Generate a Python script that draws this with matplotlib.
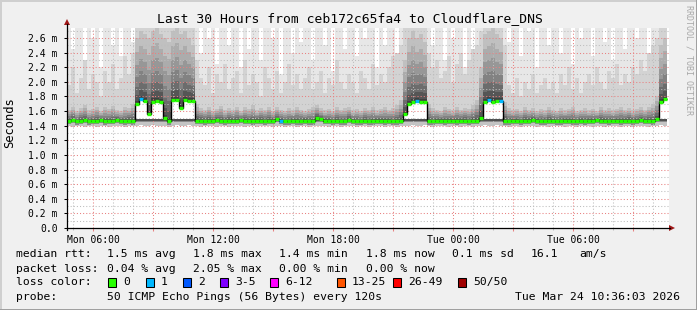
import numpy as np
import matplotlib
matplotlib.use('Agg')
import matplotlib.pyplot as plt
from matplotlib.lines import Line2D
from matplotlib.patches import Rectangle, Polygon

plt.rcParams['font.family'] = ['DejaVu Sans Mono', 'DejaVu Sans']

W, H = 697, 310

# time axis in hours since Mon 00:00, one bin = 12 minutes
t0 = 4.68
bin_h = 0.2

# median rtt per bin (ms)
median = [
    1.47, 1.48, 1.46, 1.47, 1.48, 1.46, 1.47, 1.47, 1.48, 1.46,
    1.47, 1.47, 1.48, 1.47, 1.46, 1.47, 1.46, 1.70, 1.76, 1.74,
    1.56, 1.73, 1.74, 1.73, 1.50, 1.46, 1.75, 1.75, 1.64, 1.75,
    1.74, 1.74, 1.47, 1.47, 1.46, 1.47, 1.47, 1.48, 1.47, 1.46,
    1.47, 1.47, 1.47, 1.48, 1.47, 1.47, 1.46, 1.47, 1.47, 1.46,
    1.47, 1.47, 1.49, 1.47, 1.46, 1.46, 1.47, 1.46, 1.46, 1.47,
    1.46, 1.46, 1.51, 1.49, 1.47, 1.47, 1.46, 1.47, 1.46, 1.46,
    1.48, 1.47, 1.46, 1.46, 1.47, 1.46, 1.46, 1.47, 1.47, 1.46,
    1.47, 1.46, 1.46, 1.47, 1.56, 1.70, 1.72, 1.74, 1.73, 1.73,
    1.46, 1.46, 1.47, 1.47, 1.46, 1.47, 1.47, 1.46, 1.47, 1.47,
    1.46, 1.47, 1.47, 1.50, 1.73, 1.75, 1.73, 1.74, 1.74, 1.46,
    1.46, 1.47, 1.47, 1.46, 1.47, 1.47, 1.48, 1.47, 1.46, 1.46,
    1.47, 1.47, 1.46, 1.46, 1.47, 1.47, 1.46, 1.46, 1.47, 1.46,
    1.47, 1.47, 1.48, 1.47, 1.47, 1.46, 1.47, 1.47, 1.46, 1.47,
    1.47, 1.46, 1.47, 1.48, 1.47, 1.47, 1.46, 1.49, 1.73, 1.76,
]

# lost pings per bin (out of 50)
loss = [
    0, 0, 0, 0, 0, 0, 0, 0, 0, 0,
    0, 0, 0, 0, 0, 0, 0, 0, 1, 0,
    0, 0, 0, 0, 0, 0, 0, 0, 0, 0,
    0, 0, 0, 0, 0, 0, 0, 0, 0, 0,
    0, 0, 0, 0, 0, 0, 0, 0, 0, 0,
    0, 0, 0, 1, 0, 0, 0, 0, 0, 0,
    0, 0, 0, 0, 0, 0, 0, 0, 0, 0,
    0, 0, 0, 0, 0, 0, 0, 0, 0, 0,
    0, 0, 0, 0, 0, 0, 0, 1, 0, 0,
    0, 0, 0, 0, 0, 0, 0, 0, 0, 0,
    0, 0, 0, 0, 0, 1, 0, 0, 1, 0,
    0, 0, 0, 0, 0, 0, 0, 0, 0, 0,
    0, 0, 0, 0, 0, 0, 0, 0, 0, 0,
    0, 0, 0, 0, 0, 0, 0, 0, 0, 0,
    0, 0, 0, 0, 0, 0, 0, 0, 0, 0,
]

# smoke: fastest ping per bin
smoke_min = [
    1.39, 1.38, 1.39, 1.40, 1.38, 1.39, 1.39, 1.38, 1.40, 1.39,
    1.38, 1.39, 1.40, 1.39, 1.38, 1.39, 1.39, 1.40, 1.41, 1.40,
    1.40, 1.41, 1.40, 1.40, 1.39, 1.38, 1.40, 1.41, 1.40, 1.40,
    1.41, 1.40, 1.39, 1.38, 1.39, 1.39, 1.40, 1.38, 1.39, 1.39,
    1.38, 1.39, 1.40, 1.39, 1.38, 1.39, 1.39, 1.38, 1.39, 1.40,
    1.39, 1.38, 1.39, 1.39, 1.38, 1.39, 1.40, 1.38, 1.39, 1.39,
    1.38, 1.39, 1.40, 1.39, 1.39, 1.38, 1.39, 1.39, 1.38, 1.39,
    1.40, 1.39, 1.38, 1.39, 1.39, 1.38, 1.39, 1.40, 1.39, 1.38,
    1.39, 1.39, 1.38, 1.39, 1.40, 1.40, 1.41, 1.40, 1.40, 1.41,
    1.39, 1.38, 1.39, 1.39, 1.40, 1.38, 1.39, 1.39, 1.38, 1.39,
    1.39, 1.38, 1.39, 1.40, 1.41, 1.40, 1.40, 1.41, 1.40, 1.39,
    1.38, 1.39, 1.39, 1.38, 1.39, 1.40, 1.39, 1.38, 1.39, 1.39,
    1.38, 1.39, 1.40, 1.39, 1.38, 1.39, 1.39, 1.38, 1.39, 1.40,
    1.39, 1.38, 1.39, 1.39, 1.38, 1.39, 1.40, 1.39, 1.38, 1.39,
    1.39, 1.38, 1.39, 1.40, 1.39, 1.38, 1.39, 1.40, 1.41, 1.40,
]

# smoke: top of the dense (dark) part above the median
dense_top = [
    1.62, 1.66, 1.60, 1.64, 1.68, 1.61, 1.63, 1.66, 1.60, 1.65,
    1.63, 1.67, 1.62, 1.60, 1.65, 1.64, 1.70, 2.60, 2.70, 2.65,
    2.60, 2.70, 2.75, 2.65, 2.60, 2.55, 2.70, 2.75, 2.65, 2.70,
    2.60, 2.50, 1.70, 1.64, 1.62, 1.66, 1.60, 1.63, 1.67, 1.61,
    1.64, 1.62, 1.66, 1.60, 1.65, 1.63, 1.68, 1.61, 1.64, 1.62,
    1.66, 1.60, 1.65, 1.62, 1.60, 1.64, 1.61, 1.66, 1.62, 1.60,
    1.63, 1.65, 1.68, 1.64, 1.61, 1.63, 1.60, 1.65, 1.62, 1.64,
    1.66, 1.61, 1.63, 1.60, 1.64, 1.62, 1.66, 1.61, 1.63, 1.65,
    1.62, 1.64, 1.68, 1.75, 2.30, 2.60, 2.70, 2.60, 2.65, 2.55,
    1.70, 1.64, 1.62, 1.60, 1.65, 1.63, 1.61, 1.66, 1.62, 1.64,
    1.63, 1.68, 1.75, 2.20, 2.65, 2.70, 2.75, 2.65, 2.60, 1.72,
    1.64, 1.61, 1.63, 1.60, 1.65, 1.62, 1.64, 1.60, 1.63, 1.61,
    1.65, 1.62, 1.60, 1.64, 1.61, 1.63, 1.66, 1.60, 1.62, 1.64,
    1.61, 1.63, 1.60, 1.65, 1.62, 1.64, 1.61, 1.63, 1.66, 1.62,
    1.64, 1.61, 1.63, 1.65, 1.62, 1.66, 1.70, 1.80, 2.50, 2.60,
]

# smoke: top of the medium grey part
mid_top = [
    1.95, 2.20, 1.85, 2.05, 2.30, 1.90, 2.10, 2.00, 1.80, 2.15,
    2.00, 2.25, 1.90, 2.05, 2.35, 2.10, 2.40, 2.80, 2.80, 2.80,
    2.80, 2.80, 2.80, 2.80, 2.80, 2.80, 2.80, 2.80, 2.80, 2.80,
    2.80, 2.80, 2.30, 2.05, 1.95, 2.20, 1.85, 2.10, 2.00, 2.25,
    1.90, 2.05, 2.15, 1.85, 2.30, 1.95, 2.10, 2.00, 1.80, 2.20,
    2.05, 1.90, 2.15, 1.85, 2.00, 2.25, 1.95, 2.10, 1.90, 2.05,
    2.20, 1.90, 2.00, 2.15, 1.85, 2.05, 1.95, 2.30, 2.00, 1.90,
    2.10, 2.00, 1.85, 2.15, 2.05, 1.90, 2.25, 1.95, 2.10, 2.00,
    2.20, 2.35, 2.40, 2.50, 2.80, 2.80, 2.80, 2.80, 2.80, 2.80,
    2.40, 2.20, 2.30, 2.05, 2.15, 2.35, 2.00, 2.25, 2.40, 2.10,
    2.30, 2.45, 2.50, 2.70, 2.80, 2.80, 2.80, 2.80, 2.80, 2.50,
    1.95, 1.85, 2.05, 1.80, 2.00, 1.90, 2.10, 1.85, 1.95, 2.05,
    1.90, 2.00, 1.85, 2.10, 1.95, 2.20, 1.90, 2.05, 1.85, 2.00,
    2.10, 1.95, 2.20, 2.00, 1.90, 2.15, 2.05, 2.25, 1.95, 2.10,
    2.00, 2.20, 2.10, 2.30, 2.15, 2.40, 2.50, 2.60, 2.80, 2.80,
]

# smoke: slowest ping per bin
smoke_max = [
    2.80, 2.45, 2.80, 2.80, 2.30, 2.80, 2.60, 2.80, 2.20, 2.80,
    2.80, 2.50, 2.80, 2.35, 2.80, 2.80, 2.55, 2.80, 2.80, 2.80,
    2.80, 2.80, 2.80, 2.80, 2.80, 2.80, 2.80, 2.80, 2.80, 2.80,
    2.80, 2.80, 2.80, 2.40, 2.80, 2.60, 2.80, 2.25, 2.80, 2.80,
    2.50, 2.80, 2.80, 2.20, 2.80, 2.45, 2.80, 2.80, 2.30, 2.80,
    2.80, 2.60, 2.80, 2.10, 2.80, 2.80, 2.40, 2.80, 2.55, 2.80,
    2.80, 2.30, 2.80, 2.80, 2.50, 2.80, 2.15, 2.80, 2.80, 2.45,
    2.80, 2.80, 2.35, 2.80, 2.60, 2.80, 2.80, 2.20, 2.80, 2.50,
    2.80, 2.80, 2.40, 2.80, 2.80, 2.80, 2.80, 2.80, 2.80, 2.80,
    2.80, 2.50, 2.80, 2.80, 2.30, 2.80, 2.60, 2.80, 2.80, 2.20,
    2.80, 2.45, 2.80, 2.80, 2.80, 2.80, 2.80, 2.80, 2.80, 2.80,
    2.55, 2.80, 2.80, 2.35, 2.80, 2.70, 2.80, 2.20, 2.80, 2.80,
    2.50, 2.80, 2.80, 2.40, 2.80, 2.80, 2.25, 2.80, 2.60, 2.80,
    2.80, 2.35, 2.80, 2.80, 2.55, 2.80, 2.30, 2.80, 2.80, 2.45,
    2.80, 2.80, 2.60, 2.80, 2.80, 2.40, 2.80, 2.80, 2.80, 2.80,
]

BASE_RTT = 1.49  # top of the lower smoke cluster

ytick_vals = [0.0, 0.2, 0.4, 0.6, 0.8, 1.0, 1.2, 1.4, 1.6, 1.8, 2.0, 2.2, 2.4, 2.6]
ytick_labels = ['0.0', '0.2 m', '0.4 m', '0.6 m', '0.8 m', '1.0 m', '1.2 m', '1.4 m',
                '1.6 m', '1.8 m', '2.0 m', '2.2 m', '2.4 m', '2.6 m']
xtick_vals = [6, 9, 12, 15, 18, 21, 24, 27, 30, 33]
xtick_labels = ['Mon 06:00', '', 'Mon 12:00', '', 'Mon 18:00', '', 'Tue 00:00', '', 'Tue 06:00', '']

loss_labels = ['0', '1', '2', '3-5', '6-12', '13-25', '26-49', '50/50']
loss_colors = ['#26ff00', '#00b8ff', '#0059ff', '#7e00ff', '#ff00ff', '#ff5500', '#ff0000', '#a00000']


def fx(x):
    return x / W


def fy(y):
    return 1 - y / H


med = np.array(median)
n = len(med)
edges = t0 + bin_h * np.arange(n + 1)
left = edges[:-1]
dense = np.array(dense_top)
midt = np.array(mid_top)
smax = np.array(smoke_max)
smin = np.array(smoke_min)

fig = plt.figure(figsize=(W / 100, H / 100), dpi=100, facecolor='#f0f0f0')
ax = fig.add_axes([fx(67), fy(228), fx(602), 200 / H])
ax.set_facecolor('white')

bar_kw = dict(width=bin_h, align='edge', linewidth=0, antialiased=False, zorder=1)
# light smoke up to the slowest ping
ax.bar(left, smax - med, bottom=med, color='#e7e7e7', **bar_kw)
ax.bar(left, midt - med, bottom=med, color='#d3d3d3', **bar_kw)
shades = ['#c0c0c0', '#acacac', '#979797', '#828282', '#6c6c6c', '#555555', '#404040']
for k, c in enumerate(shades):
    frac = (1 - k / len(shades)) ** 1.6
    ax.bar(left, (dense - med) * frac, bottom=med, color=c, **bar_kw)
# lower smoke
low_top = np.minimum(med, BASE_RTT)
ax.bar(left, low_top - smin, bottom=smin, color='#c4c4c4', **bar_kw)
ax.bar(left, np.full(n, 0.045), bottom=low_top - 0.045, color='#8a8a8a', **bar_kw)
ax.bar(left, np.full(n, 0.02), bottom=low_top - 0.02, color='#505050', **bar_kw)

# median line, coloured by loss
ax.stairs(med, edges, baseline=None, color='black', linewidth=1.0, zorder=3)
ax.hlines(med, left, edges[1:], colors=[loss_colors[l] for l in loss], linewidth=2.4, zorder=4)

ax.set_xlim(t0, t0 + 30.1)
ax.set_ylim(0, 200 / 73.1)

ax.set_yticks(ytick_vals)
ax.set_yticklabels(ytick_labels)
ax.set_yticks(np.arange(0.1, 2.75, 0.2), minor=True)
ax.set_xticks(xtick_vals)
ax.set_xticklabels(xtick_labels)
ax.set_xticks(np.arange(5, 35, 1), minor=True)

dots = (0, (1, 2))
ax.grid(True, which='major', color='#e88080', linewidth=0.75, linestyle=dots, zorder=2)
ax.grid(True, which='minor', color='#bdbdbd', linewidth=0.75, linestyle=dots, zorder=2)
ax.set_axisbelow(False)

ax.tick_params(axis='x', which='major', length=2.2, width=0.75, color='#e88080', pad=2.5, labelsize=7)
ax.tick_params(axis='x', which='minor', length=1.5, width=0.75, color='#bdbdbd')
ax.tick_params(axis='y', which='major', length=2.2, width=0.75, color='black', pad=4.5, labelsize=7)
ax.tick_params(axis='y', which='minor', length=0)

for s in ['top', 'right', 'left', 'bottom']:
    ax.spines[s].set_visible(False)

# axes with arrows
axis_col = 'black'
arrow_col = '#a01818'
fig.add_artist(Line2D([fx(67), fx(670)], [fy(228), fy(228)], color=axis_col, linewidth=0.9))
fig.add_artist(Line2D([fx(67), fx(67)], [fy(230), fy(24)], color=axis_col, linewidth=0.9))
fig.add_artist(Polygon([[fx(64), fy(25)], [fx(70), fy(25)], [fx(67), fy(19)]],
                       closed=True, color=arrow_col, linewidth=0))
fig.add_artist(Polygon([[fx(669), fy(225)], [fx(669), fy(231)], [fx(675), fy(228)]],
                       closed=True, color=arrow_col, linewidth=0))

# titles
fig.text(fx(349.5), fy(19), 'Last 30 Hours from ceb172c65fa4 to Cloudflare_DNS',
         ha='center', va='center', fontsize=9.4)
fig.text(fx(10), fy(123), 'Seconds', rotation=90, ha='center', va='center', fontsize=8.7)
fig.text(fx(688.5), fy(5), 'RRDTOOL / TOBI OETIKER', rotation=270, ha='center', va='top',
         fontsize=6, color='#a8a8a8')

# legend block
fs = 8.2
rtt_vals = ['1.5 ms avg', '1.8 ms max', '1.4 ms min', '1.8 ms now', '0.1 ms sd', '16.1', 'am/s']
rtt_x = [107.3, 193.3, 279.3, 366, 451.7, 531, 579.3]
loss_vals = ['0.04 % avg', '2.05 % max', '0.00 % min', '0.00 % now']
loss_x = [107.3, 193.3, 279.3, 366]

fig.text(fx(16), fy(257.3), 'median rtt:', ha='left', va='baseline', fontsize=fs)
for s, x in zip(rtt_vals, rtt_x):
    fig.text(fx(x), fy(257.3), s, ha='left', va='baseline', fontsize=fs)
fig.text(fx(16), fy(271.5), 'packet loss:', ha='left', va='baseline', fontsize=fs)
for s, x in zip(loss_vals, loss_x):
    fig.text(fx(x), fy(271.5), s, ha='left', va='baseline', fontsize=fs)

fig.text(fx(16), fy(285.3), 'loss color:', ha='left', va='baseline', fontsize=fs)
box_x = [108.3, 145.7, 183, 220, 270, 336.7, 393.3, 458.3]
for lab, col, x in zip(loss_labels, loss_colors, box_x):
    fig.add_artist(Rectangle((fx(x), fy(287)), 8 / W, 9.5 / H, facecolor=col,
                             edgecolor='black', linewidth=0.75))
    fig.text(fx(x + 15), fy(285.3), lab, ha='left', va='baseline', fontsize=fs)

fig.text(fx(16), fy(300), 'probe:', ha='left', va='baseline', fontsize=fs)
fig.text(fx(107.3), fy(300), '50 ICMP Echo Pings (56 Bytes) every 120s',
         ha='left', va='baseline', fontsize=fs)
fig.text(fx(680), fy(300), 'Tue Mar 24 10:36:03 2026', ha='right', va='baseline', fontsize=fs)

# image border
fig.add_artist(Line2D([0, 1], [fy(0.5), fy(0.5)], color='#cfcfcf', linewidth=1.4))
fig.add_artist(Line2D([fx(0.5), fx(0.5)], [0, 1], color='#cfcfcf', linewidth=1.4))
fig.add_artist(Line2D([0, 1], [fy(309.5), fy(309.5)], color='#9e9e9e', linewidth=1.4))
fig.add_artist(Line2D([fx(696.5), fx(696.5)], [0, 1], color='#9e9e9e', linewidth=1.4))

fig.savefig('out.png', dpi=100, facecolor=fig.get_facecolor())
